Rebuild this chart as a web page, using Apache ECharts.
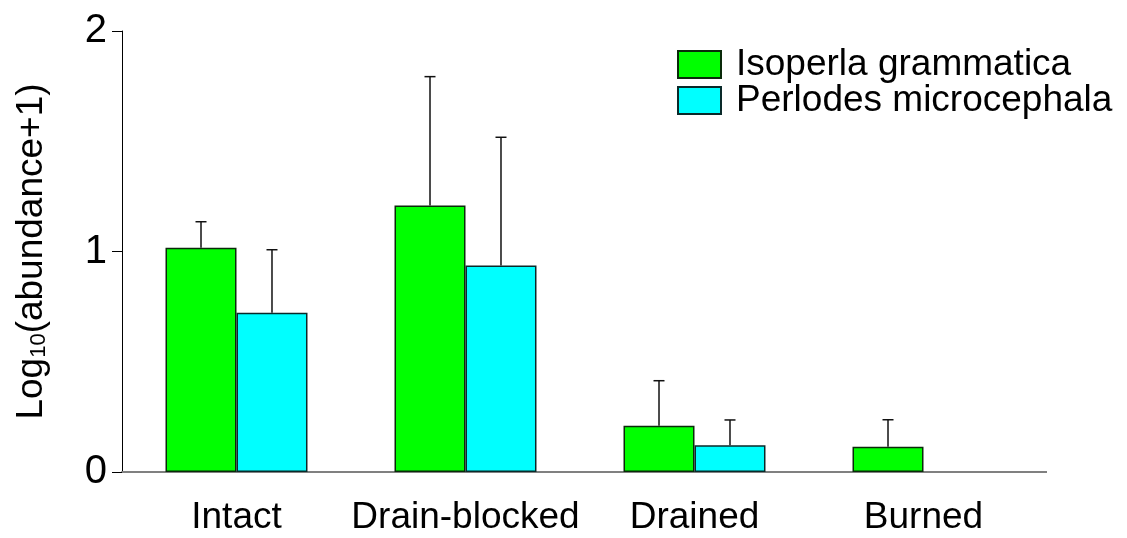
<!DOCTYPE html>
<html>
<head>
<meta charset="utf-8">
<script src="https://cdn.jsdelivr.net/npm/echarts@6/dist/echarts.min.js"></script>
<style>html,body{margin:0;padding:0;background:#fff}#c{width:1127px;height:538px}</style>
</head>
<body>
<div id="c"></div>
<script>
var categories = ['Intact', 'Drain-blocked', 'Drained', 'Burned'];
var isoperlaMean = [1.017, 1.209, 0.21, 0.115];
var isoperlaErr = [0.118, 0.584, 0.204, 0.122];
var perlodesMean = [0.722, 0.936, 0.121, 0];
var perlodesErr = [0.286, 0.582, 0.115, 0];
var yTicks = [0, 1, 2];

var FONT = 'Liberation Sans, Arial, sans-serif';
var BAR_FRAC = 0.31;

function errSeries(means, errs, side) {
  return {
    type: 'custom',
    silent: true,
    z: 5,
    data: means.map(function (m, i) { return [i, m, m + errs[i]]; }),
    renderItem: function (params, api) {
      var idx = api.value(0);
      var lo = api.coord([idx, api.value(1)]);
      var hi = api.coord([idx, api.value(2)]);
      var band = api.size([1, 0])[0];
      var x = lo[0] + side * band * BAR_FRAC / 2;
      if (api.value(2) - api.value(1) <= 0) return null;
      var cap = 5.5;
      var style = { stroke: '#111', lineWidth: 1.5 };
      return {
        type: 'group',
        children: [
          { type: 'line', shape: { x1: x, y1: lo[1], x2: x, y2: hi[1] }, style: style },
          { type: 'line', shape: { x1: x - cap, y1: hi[1], x2: x + cap, y2: hi[1] }, style: style }
        ]
      };
    }
  };
}

function barData(arr) {
  return arr.map(function (v) {
    return v === 0 ? { value: v, itemStyle: { borderWidth: 0 } } : v;
  });
}

var chart = echarts.init(document.getElementById('c'));
chart.setOption({
  animation: false,
  backgroundColor: '#fff',
  grid: { left: 122, right: 89, top: 31, bottom: 66, containLabel: false },
  legend: {
    data: ['Isoperla grammatica', 'Perlodes microcephala'],
    orient: 'vertical',
    left: 672,
    top: 41,
    itemWidth: 43,
    itemHeight: 27,
    itemGap: -1,
    icon: 'rect',
    textStyle: { fontFamily: FONT, fontSize: 37, color: '#000', lineHeight: 27, padding: [0, 0, 0, 10] }
  },
  xAxis: {
    type: 'category',
    data: categories,
    axisLine: { show: true, lineStyle: { color: '#808080', width: 2 } },
    axisTick: { show: false },
    axisLabel: { color: '#000', fontFamily: FONT, fontSize: 37, margin: 27, interval: 0 },
    splitLine: { show: false }
  },
  yAxis: {
    type: 'value',
    min: 0,
    max: 2,
    interval: 1,
    name: '{a|Log}{b|10}{a|(abundance+1)}',
    nameLocation: 'middle',
    nameGap: 72,
    nameRotate: 90,
    nameTextStyle: {
      rich: {
        a: { fontFamily: FONT, fontSize: 37, color: '#000' },
        b: { fontFamily: FONT, fontSize: 22, color: '#000', verticalAlign: 'bottom', padding: [10, 0, 0, 0] }
      }
    },
    axisLine: { show: true, lineStyle: { color: '#000', width: 1 } },
    axisTick: { show: true, inside: false, length: 10, lineStyle: { color: '#000', width: 1 } },
    axisLabel: {
      color: '#000', fontFamily: FONT, fontSize: 40, margin: 15,
      formatter: function (v) { return yTicks.indexOf(v) >= 0 ? String(v) : ''; }
    },
    splitLine: { show: false }
  },
  series: [
    {
      name: 'Isoperla grammatica',
      type: 'bar',
      data: barData(isoperlaMean),
      barWidth: (BAR_FRAC * 100) + '%',
      barGap: '0%',
      itemStyle: { color: '#00ff00', borderColor: '#0a2a0a', borderWidth: 1.5 }
    },
    {
      name: 'Perlodes microcephala',
      type: 'bar',
      data: barData(perlodesMean),
      barWidth: (BAR_FRAC * 100) + '%',
      barGap: '0%',
      itemStyle: { color: '#00ffff', borderColor: '#0a2a2a', borderWidth: 1.5 }
    },
    errSeries(isoperlaMean, isoperlaErr, -1),
    errSeries(perlodesMean, perlodesErr, 1)
  ]
});

var p0 = chart.convertToPixel({ gridIndex: 0 }, [3, 0]);
var band = chart.convertToPixel({ xAxisIndex: 0 }, 1) - chart.convertToPixel({ xAxisIndex: 0 }, 0);
var rightEdge = p0[0] + band / 2;
chart.setOption({
  graphic: [
    { type: 'line', shape: { x1: rightEdge - 2, y1: p0[1], x2: rightEdge + 9, y2: p0[1] }, style: { stroke: '#808080', lineWidth: 2 }, z: 10 }
  ]
});
</script>
</body>
</html>
